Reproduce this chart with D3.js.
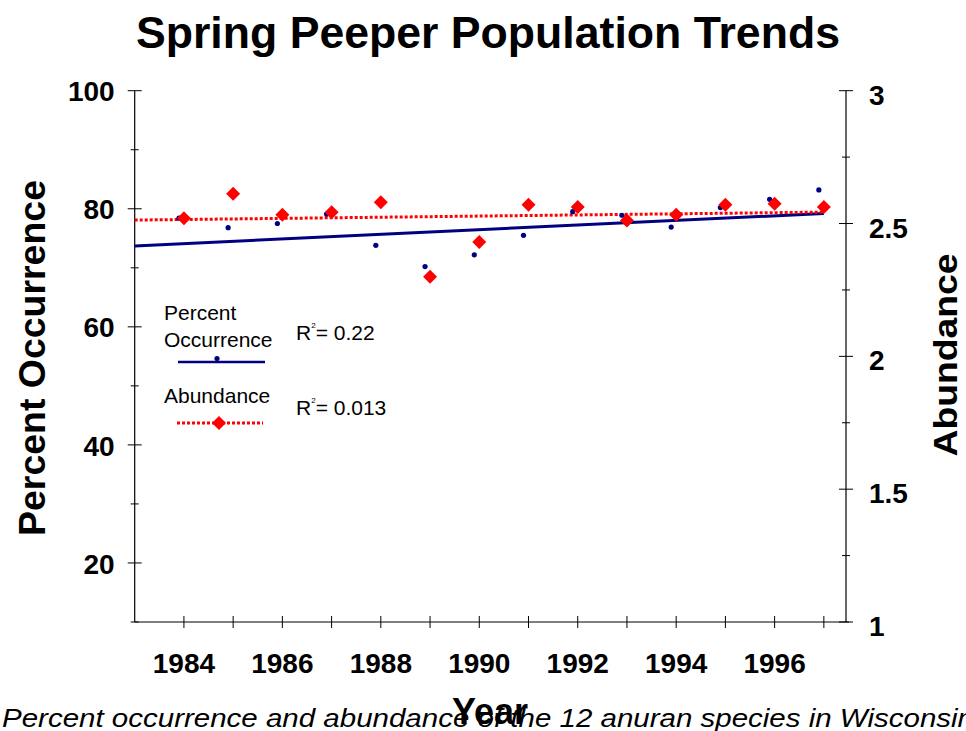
<!DOCTYPE html>
<html><head><meta charset="utf-8">
<script src="https://cdn.jsdelivr.net/npm/d3@7"></script>
<style>
body{margin:0;background:#fff}
svg{display:block}
text{font-family:"Liberation Sans",Arial,Helvetica,sans-serif;fill:#000}
</style>
</head><body>
<svg id="chart" width="966" height="731"></svg>
<script>
// ---- data ----
const years = [1984,1985,1986,1987,1988,1989,1990,1991,1992,1993,1994,1995,1996,1997];
const occurrence = [78.4,76.8,77.5,79.1,73.8,70.2,72.2,75.5,79.5,78.9,76.9,80.2,81.6,83.2];
const abundance = [2.52,2.612,2.533,2.542,2.58,2.30,2.43,2.571,2.562,2.511,2.533,2.571,2.574,2.562];
const trendYears = [1983,1997];
const occurrenceTrend = [73.7,79.2];
const abundanceTrend = [2.513,2.543];
const xTickLabels = [1984,1986,1988,1990,1992,1994,1996];
const leftMajor = [20,40,60,80,100];
const leftMinor = [10,30,50,70,90];
const rightMajor = [1,1.5,2,2.5,3];
const rightMinor = [1.25,1.75,2.25,2.75];
const r2Occurrence = "0.22";
const r2Abundance = "0.013";
const titleText = "Spring Peeper Population Trends";
const captionText = "Percent occurrence and abundance of the 12 anuran species in Wisconsin";

// ---- layout ----
const svg = d3.select("#chart");
const L = 134.7, R = 846, T = 90.7, B = 622;
const x = d3.scaleLinear().domain([1983,1997.45]).range([L,R]);
const yL = d3.scaleLinear().domain([10,100]).range([B,T]);
const yR = d3.scaleLinear().domain([1,3]).range([B,T]);
const navy = "#000080", red = "#ff0000";

// title
svg.append("text").attr("x",488).attr("y",48).attr("text-anchor","middle")
  .attr("font-size",45).attr("font-weight","bold")
  .attr("textLength",704).attr("lengthAdjust","spacingAndGlyphs").text(titleText);

// x axis
const gx = svg.append("g").attr("transform",`translate(0,${B})`);
gx.append("line").attr("x1",L).attr("x2",849).attr("stroke","#000").attr("stroke-width",1.2);
gx.selectAll("line.t").data(years).join("line").attr("class","t")
  .attr("x1",d=>x(d)).attr("x2",d=>x(d)).attr("y1",-6).attr("y2",6)
  .attr("stroke","#000").attr("stroke-width",1);
gx.selectAll("text").data(xTickLabels).join("text")
  .attr("x",d=>x(d)).attr("y",51).attr("text-anchor","middle")
  .attr("font-size",28).attr("font-weight","bold").text(d=>d);

// left axis
const gl = svg.append("g");
gl.append("line").attr("x1",L).attr("x2",L).attr("y1",T).attr("y2",B).attr("stroke","#000").attr("stroke-width",1.2);
gl.selectAll("line.maj").data(leftMajor).join("line").attr("class","maj")
  .attr("x1",L-7).attr("x2",L+7).attr("y1",d=>yL(d)).attr("y2",d=>yL(d)).attr("stroke","#000");
gl.selectAll("line.min").data(leftMinor).join("line").attr("class","min")
  .attr("x1",L-4).attr("x2",L+4).attr("y1",d=>yL(d)).attr("y2",d=>yL(d)).attr("stroke","#000");
gl.selectAll("text").data(leftMajor).join("text")
  .attr("x",L-20).attr("y",d=>yL(d)).attr("dy","0.38em").attr("text-anchor","end")
  .attr("font-size",28).attr("font-weight","bold").text(d=>d);

// right axis
const gr = svg.append("g");
gr.append("line").attr("x1",R).attr("x2",R).attr("y1",T).attr("y2",B).attr("stroke","#000").attr("stroke-width",1.2);
gr.selectAll("line.maj").data(rightMajor).join("line").attr("class","maj")
  .attr("x1",R-7).attr("x2",R+7).attr("y1",d=>yR(d)).attr("y2",d=>yR(d)).attr("stroke","#000");
gr.selectAll("line.min").data(rightMinor).join("line").attr("class","min")
  .attr("x1",R-4).attr("x2",R+4).attr("y1",d=>yR(d)).attr("y2",d=>yR(d)).attr("stroke","#000");
gr.selectAll("text").data(rightMajor).join("text")
  .attr("x",R+23).attr("y",d=>yR(d)).attr("dy","0.5em").attr("text-anchor","start")
  .attr("font-size",28).attr("font-weight","bold").text(d=>d);

// axis titles
svg.append("text").attr("transform","translate(45,358) rotate(-90)").attr("text-anchor","middle")
  .attr("font-size",36).attr("font-weight","bold")
  .attr("textLength",356).attr("lengthAdjust","spacingAndGlyphs").text("Percent Occurrence");
svg.append("text").attr("transform","translate(957,355) rotate(-90)").attr("text-anchor","middle")
  .attr("font-size",33).attr("font-weight","bold")
  .attr("textLength",203).attr("lengthAdjust","spacingAndGlyphs").text("Abundance");

// caption + Year
svg.append("text").attr("x",2).attr("y",727).attr("font-size",26).attr("font-style","italic")
  .attr("textLength",972).attr("lengthAdjust","spacingAndGlyphs").text(captionText);
svg.append("text").attr("x",490).attr("y",724).attr("text-anchor","middle")
  .attr("font-size",36).attr("font-weight","bold").text("Year");

// trend lines
const occLine = d3.line().x(d=>x(d[0])).y(d=>yL(d[1]));
const abdLine = d3.line().x(d=>x(d[0])).y(d=>yR(d[1]));
svg.append("path").datum(d3.zip(trendYears,occurrenceTrend)).attr("d",occLine)
  .attr("fill","none").attr("stroke",navy).attr("stroke-width",3);
svg.append("path").datum(d3.zip(trendYears,abundanceTrend)).attr("d",abdLine)
  .attr("fill","none").attr("stroke",red).attr("stroke-width",3).attr("stroke-dasharray","3,2");

// points
const dotShift = -5;
svg.append("g").selectAll("circle").data(d3.zip(years,occurrence)).join("circle")
  .attr("cx",d=>x(d[0])+dotShift).attr("cy",d=>yL(d[1])).attr("r",2.6).attr("fill",navy);
const diamond = d3.symbol().type(d3.symbolSquare).size(98);
svg.append("g").selectAll("path").data(d3.zip(years,abundance)).join("path")
  .attr("d",diamond)
  .attr("transform",d=>`translate(${x(d[0])},${yR(d[1])}) rotate(45)`).attr("fill",red);

// legend
const lg = svg.append("g");
lg.append("text").attr("x",164).attr("y",320).attr("font-size",21).text("Percent");
lg.append("text").attr("x",164).attr("y",347).attr("font-size",21).text("Occurrence");
lg.append("line").attr("x1",178).attr("x2",265).attr("y1",362).attr("y2",362).attr("stroke",navy).attr("stroke-width",2.5);
lg.append("circle").attr("cx",217).attr("cy",358.5).attr("r",2.6).attr("fill",navy);
lg.append("text").attr("x",164).attr("y",403).attr("font-size",21).text("Abundance");
lg.append("line").attr("x1",177).attr("x2",263).attr("y1",423).attr("y2",423).attr("stroke",red).attr("stroke-width",3).attr("stroke-dasharray","3,2");
lg.append("path").attr("d",diamond).attr("transform","translate(219,423) rotate(45)").attr("fill",red);

function r2(yb, val){
  const t = lg.append("text").attr("x",296).attr("y",yb).attr("font-size",21);
  t.append("tspan").text("R");
  t.append("tspan").attr("font-size",8).attr("dy",-12).text("2");
  t.append("tspan").attr("dy",12).text("= " + val);
}
r2(340, r2Occurrence);
r2(415, r2Abundance);
</script>
</body></html>
